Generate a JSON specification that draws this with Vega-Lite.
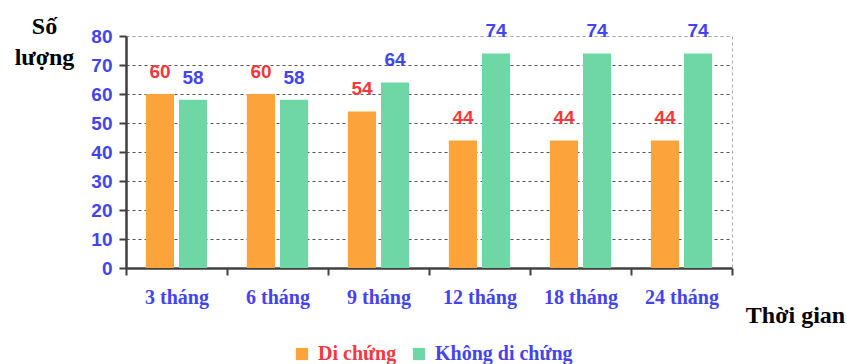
{
  "$schema": "https://vega.github.io/schema/vega-lite/v6.json",
  "width": 606,
  "height": 232,
  "autosize": {"type": "none"},
  "padding": {"left": 126, "top": 36, "right": 115, "bottom": 96},
  "background": "white",
  "config": {"view": {"stroke": "#aaaaaa", "strokeDash": [3, 3], "strokeWidth": 1}},
  "data": {
    "values": [
      {"time": "3 tháng", "series": "Di chứng", "value": 60},
      {"time": "3 tháng", "series": "Không di chứng", "value": 58},
      {"time": "6 tháng", "series": "Di chứng", "value": 60},
      {"time": "6 tháng", "series": "Không di chứng", "value": 58},
      {"time": "9 tháng", "series": "Di chứng", "value": 54},
      {"time": "9 tháng", "series": "Không di chứng", "value": 64},
      {"time": "12 tháng", "series": "Di chứng", "value": 44},
      {"time": "12 tháng", "series": "Không di chứng", "value": 74},
      {"time": "18 tháng", "series": "Di chứng", "value": 44},
      {"time": "18 tháng", "series": "Không di chứng", "value": 74},
      {"time": "24 tháng", "series": "Di chứng", "value": 44},
      {"time": "24 tháng", "series": "Không di chứng", "value": 74}
    ]
  },
  "encoding": {
    "x": {
      "field": "time",
      "type": "nominal",
      "sort": null,
      "scale": {"paddingInner": 0, "paddingOuter": 0},
      "axis": {
        "tickBand": "extent",
        "ticks": true,
        "tickSize": 7,
        "tickColor": "#404040",
        "tickWidth": 2,
        "domainColor": "#404040",
        "domainWidth": 2.5,
        "grid": false,
        "labelAngle": 0,
        "labelFont": "Liberation Serif",
        "labelFontWeight": "bold",
        "labelFontSize": 20,
        "labelColor": "#4444ee",
        "labelBaseline": "middle",
        "labelPadding": 22,
        "title": "Thời gian",
        "titleFont": "Liberation Serif",
        "titleFontWeight": "bold",
        "titleFontSize": 24,
        "titleColor": "black",
        "titleAlign": "center",
        "titleBaseline": "middle",
        "titleX": 669,
        "titleY": 47
      }
    },
    "xOffset": {
      "field": "series",
      "type": "nominal",
      "sort": ["Di chứng", "Không di chứng"],
      "scale": {"paddingInner": 0.15, "paddingOuter": 0.6}
    },
    "y": {
      "field": "value",
      "type": "quantitative",
      "scale": {"domain": [0, 80], "nice": false},
      "axis": {
        "values": [0, 10, 20, 30, 40, 50, 60, 70, 80],
        "domainColor": "#404040",
        "domainWidth": 2.5,
        "tickColor": "#404040",
        "tickWidth": 2,
        "tickSize": 7,
        "labelFont": "Liberation Sans",
        "labelFontWeight": "bold",
        "labelFontSize": 19,
        "labelColor": "#4444ee",
        "labelPadding": 7,
        "grid": true,
        "gridColor": {"condition": {"test": "datum.value === 80", "value": "#aaaaaa"}, "value": "#555555"},
        "gridDash": [3, 3],
        "title": ["Số", "lượng"],
        "titleAngle": 0,
        "titleX": -82,
        "titleY": -22,
        "titleAlign": "center",
        "titleBaseline": "top",
        "titleFont": "Liberation Serif",
        "titleFontSize": 24,
        "titleFontWeight": "bold",
        "titleColor": "black",
        "titleLineHeight": 31
      }
    }
  },
  "layer": [
    {
      "mark": {"type": "bar"},
      "encoding": {
        "color": {
          "field": "series",
          "type": "nominal",
          "scale": {"domain": ["Di chứng", "Không di chứng"], "range": ["#fca33c", "#6fd6a5"]},
          "legend": {
            "orient": "none",
            "legendX": 166,
            "legendY": 308,
            "direction": "horizontal",
            "title": null,
            "symbolType": "square",
            "symbolSize": 150,
            "symbolStrokeWidth": 0,
            "labelFont": "Liberation Serif",
            "labelFontSize": 20,
            "labelFontWeight": "bold",
            "labelOffset": 6,
            "columnPadding": 12,
            "labelLimit": 300,
            "encode": {
              "labels": {
                "update": {
                  "fill": {"signal": "datum.value === 'Di chứng' ? '#f5383c' : '#4444ee'"}
                }
              }
            }
          }
        }
      }
    },
    {
      "mark": {
        "type": "text",
        "dy": -22,
        "baseline": "middle",
        "font": "Liberation Sans",
        "fontWeight": "bold",
        "fontSize": 19
      },
      "encoding": {
        "text": {"field": "value", "type": "quantitative"},
        "color": {
          "condition": {"test": "datum.series === 'Di chứng'", "value": "#f5383c"},
          "value": "#4444ee"
        }
      }
    }
  ]
}
